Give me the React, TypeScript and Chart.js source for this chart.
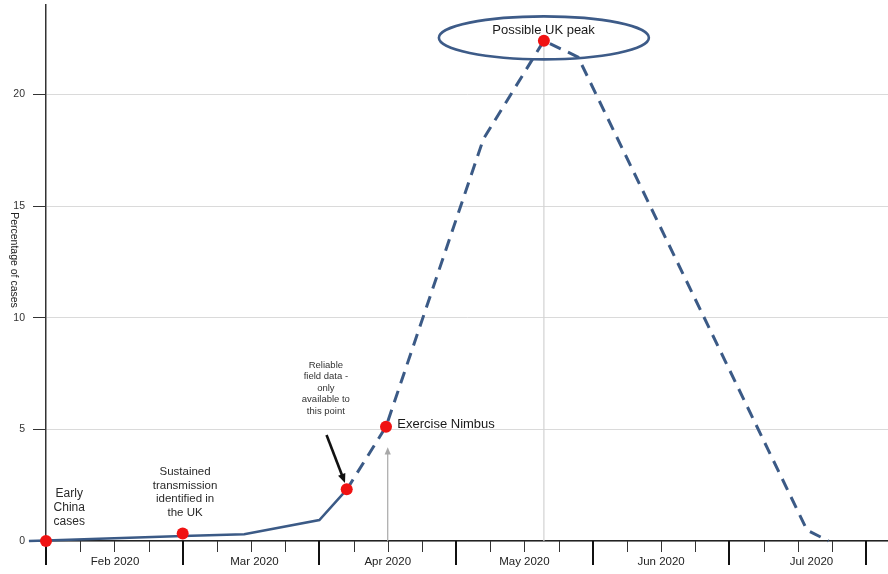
import React, { useEffect, useRef } from "react";
import { Chart, registerables } from "chart.js";

Chart.register(...registerables);

const FONT = "'Liberation Sans', Arial, Helvetica, sans-serif";

// ---- data ----
const yTickValues = [0, 5, 10, 15, 20];
const majorWeekTicks = [0, 4, 8, 12, 16, 20, 24];
const minorWeekTicks = [1, 2, 3, 5, 6, 7, 9, 10, 11, 13, 14, 15, 17, 18, 19, 21, 22, 23];
const monthLabels = ["Feb 2020", "Mar 2020", "Apr 2020", "May 2020", "Jun 2020", "Jul 2020"];
const monthLabelPos = [2.02, 6.1, 10, 14, 18, 22.4];

const observedX = [-0.5, 0, 4, 5.8, 8, 8.8];
const observedY = [0, 0.02, 0.22, 0.3, 0.94, 2.3];
const projectedX = [8.8, 9.95, 12.8, 14.57, 15.57, 22.27, 22.9];
const projectedY = [2.3, 5.12, 18, 22.4, 21.67, 0.49, 0];
const eventX = [0, 4, 8.8, 9.95, 14.57];
const eventY = [0, 0.34, 2.32, 5.12, 22.4];

const peakX = 14.57;
const peakY = 22.4;
const nimbusArrowX = 10;
const nimbusArrowTop = 4.2;

const LINE_COLOR = "#3b5a86";

type Ann = { lines: string[]; x: number; y: number; size: number; lh: number; align: CanvasTextAlign; color: string };
const annotations: Ann[] = [
  { lines: ["Early", "China", "cases"], x: 0.68, y: 2.1, size: 12, lh: 13.8, align: "center", color: "#2a2a2a" },
  { lines: ["Sustained", "transmission", "identified in", "the UK"], x: 4.07, y: 3.1, size: 11.5, lh: 13.7, align: "center", color: "#2a2a2a" },
  { lines: ["Reliable", "field data -", "only", "available to", "this point"], x: 8.19, y: 7.88, size: 9.5, lh: 11.5, align: "center", color: "#333" },
  { lines: ["Exercise Nimbus"], x: 10.28, y: 5.24, size: 13, lh: 0, align: "left", color: "#1a1a1a" },
  { lines: ["Possible UK peak"], x: 14.56, y: 22.88, size: 13, lh: 0, align: "center", color: "#1a1a1a" },
];

function arrow(ctx: CanvasRenderingContext2D, x1: number, y1: number, x2: number, y2: number, color: string, w: number, head: number) {
  const ang = Math.atan2(y2 - y1, x2 - x1);
  ctx.save();
  ctx.strokeStyle = color;
  ctx.fillStyle = color;
  ctx.lineWidth = w;
  ctx.beginPath();
  ctx.moveTo(x1, y1);
  ctx.lineTo(x2 - Math.cos(ang) * head * 0.8, y2 - Math.sin(ang) * head * 0.8);
  ctx.stroke();
  ctx.beginPath();
  ctx.moveTo(x2, y2);
  ctx.lineTo(x2 - head * Math.cos(ang - 0.4), y2 - head * Math.sin(ang - 0.4));
  ctx.lineTo(x2 - head * Math.cos(ang + 0.4), y2 - head * Math.sin(ang + 0.4));
  ctx.closePath();
  ctx.fill();
  ctx.restore();
}

const overlayPlugin = {
  id: "overlay",
  beforeDatasetsDraw(chart: any) {
    const { ctx, scales } = chart;
    const x = scales.x;
    const y = scales.y;
    const base = y.getPixelForValue(0);
    // x-axis week ticks
    ctx.save();
    ctx.strokeStyle = "#333";
    ctx.lineWidth = 1;
    minorWeekTicks.forEach((v) => {
      const px = Math.round(x.getPixelForValue(v)) + 0.5;
      ctx.beginPath();
      ctx.moveTo(px, base);
      ctx.lineTo(px, base + 11);
      ctx.stroke();
    });
    ctx.strokeStyle = "#111";
    ctx.lineWidth = 2;
    majorWeekTicks.forEach((v) => {
      const px = Math.round(x.getPixelForValue(v));
      ctx.beginPath();
      ctx.moveTo(px, base);
      ctx.lineTo(px, base + 24);
      ctx.stroke();
    });
    // month labels
    ctx.fillStyle = "#222";
    ctx.font = `11.5px ${FONT}`;
    ctx.textAlign = "center";
    ctx.textBaseline = "middle";
    monthLabels.forEach((t, i) => {
      ctx.fillText(t, x.getPixelForValue(monthLabelPos[i]), base + 20.5);
    });
    // peak vertical line
    const pkx = x.getPixelForValue(peakX);
    ctx.strokeStyle = "#d2d2d2";
    ctx.lineWidth = 1.2;
    ctx.beginPath();
    ctx.moveTo(pkx, y.getPixelForValue(peakY));
    ctx.lineTo(pkx, base);
    ctx.stroke();
    ctx.restore();
    // gray arrow to Exercise Nimbus
    const ax = x.getPixelForValue(nimbusArrowX);
    arrow(ctx, ax, base, ax, y.getPixelForValue(nimbusArrowTop), "#a8a8a8", 1.2, 8);
  },
  afterDatasetsDraw(chart: any) {
    const { ctx, scales } = chart;
    const x = scales.x;
    const y = scales.y;
    // black arrow
    arrow(ctx, x.getPixelForValue(8.21), y.getPixelForValue(4.75), x.getPixelForValue(8.75), y.getPixelForValue(2.6), "#111", 2.6, 10);
    // ellipse around peak
    ctx.save();
    ctx.strokeStyle = "#3d5b88";
    ctx.lineWidth = 2.6;
    ctx.beginPath();
    ctx.ellipse(x.getPixelForValue(peakX), y.getPixelForValue(22.53), 105, 21.5, 0, 0, Math.PI * 2);
    ctx.stroke();
    // annotation texts
    annotations.forEach((a) => {
      ctx.fillStyle = a.color;
      ctx.font = `${a.size}px ${FONT}`;
      ctx.textAlign = a.align;
      ctx.textBaseline = "middle";
      const px = x.getPixelForValue(a.x);
      const py = y.getPixelForValue(a.y);
      a.lines.forEach((t, i) => ctx.fillText(t, px, py + i * a.lh));
    });
    // y-axis title, rotated clockwise
    ctx.translate(14, 260);
    ctx.rotate(Math.PI / 2);
    ctx.fillStyle = "#222";
    ctx.font = `10.5px ${FONT}`;
    ctx.textAlign = "center";
    ctx.textBaseline = "middle";
    ctx.fillText("Percentage of cases", 0, 0);
    ctx.restore();
  },
};

export default function App() {
  const ref = useRef<HTMLCanvasElement>(null);
  useEffect(() => {
    if (!ref.current) return;
    const chart = new Chart(ref.current, {
      type: "line",
      data: {
        datasets: [
          {
            label: "events",
            data: eventX.map((v, i) => ({ x: v, y: eventY[i] })),
            showLine: false,
            pointRadius: 6,
            pointBackgroundColor: "#f01212",
            pointBorderColor: "#f01212",
            pointBorderWidth: 0,
            clip: false as any,
            order: 0,
          },
          {
            label: "observed",
            data: observedX.map((v, i) => ({ x: v, y: observedY[i] })),
            borderColor: LINE_COLOR,
            borderWidth: 2.5,
            pointRadius: 0,
            tension: 0,
            fill: false,
            clip: false as any,
            order: 1,
          },
          {
            label: "projected",
            data: projectedX.map((v, i) => ({ x: v, y: projectedY[i] })),
            borderColor: LINE_COLOR,
            borderWidth: 3,
            borderDash: [12, 8],
            pointRadius: 0,
            tension: 0,
            fill: false,
            clip: false as any,
            order: 1,
          },
        ],
      },
      options: {
        animation: false,
        responsive: false,
        layout: { autoPadding: false, padding: { top: 5, right: 0, left: 0, bottom: 0 } },
        plugins: { legend: { display: false }, tooltip: { enabled: false } },
        events: [],
        scales: {
          x: {
            type: "linear",
            min: 0,
            max: 24.64,
            ticks: { display: false },
            grid: { display: false },
            border: { display: true, color: "#222", width: 1.5 },
            afterFit: (s: any) => {
              s.height = 33;
              s.paddingLeft = 0;
              s.paddingRight = 0;
              s.paddingTop = 0;
              s.paddingBottom = 0;
            },
          },
          y: {
            type: "linear",
            min: 0,
            max: 24,
            afterBuildTicks: (s: any) => {
              s.ticks = yTickValues.map((v) => ({ value: v }));
            },
            ticks: { color: "#333", font: { family: FONT, size: 10.5 }, padding: 8 },
            grid: { color: "#dadada", tickColor: "#333", tickLength: 13, lineWidth: 1 },
            border: { display: true, color: "#333", width: 1.5 },
            afterFit: (s: any) => {
              s.width = 46;
              s.paddingLeft = 0;
              s.paddingRight = 0;
              s.paddingTop = 0;
              s.paddingBottom = 0;
            },
          },
        },
      },
      plugins: [overlayPlugin],
    });
    return () => chart.destroy();
  }, []);
  return (
    <div style={{ position: "fixed", left: 0, top: 0, width: 888, height: 574, background: "#fff" }}>
      <canvas ref={ref} width={888} height={574} style={{ display: "block" }} />
    </div>
  );
}
